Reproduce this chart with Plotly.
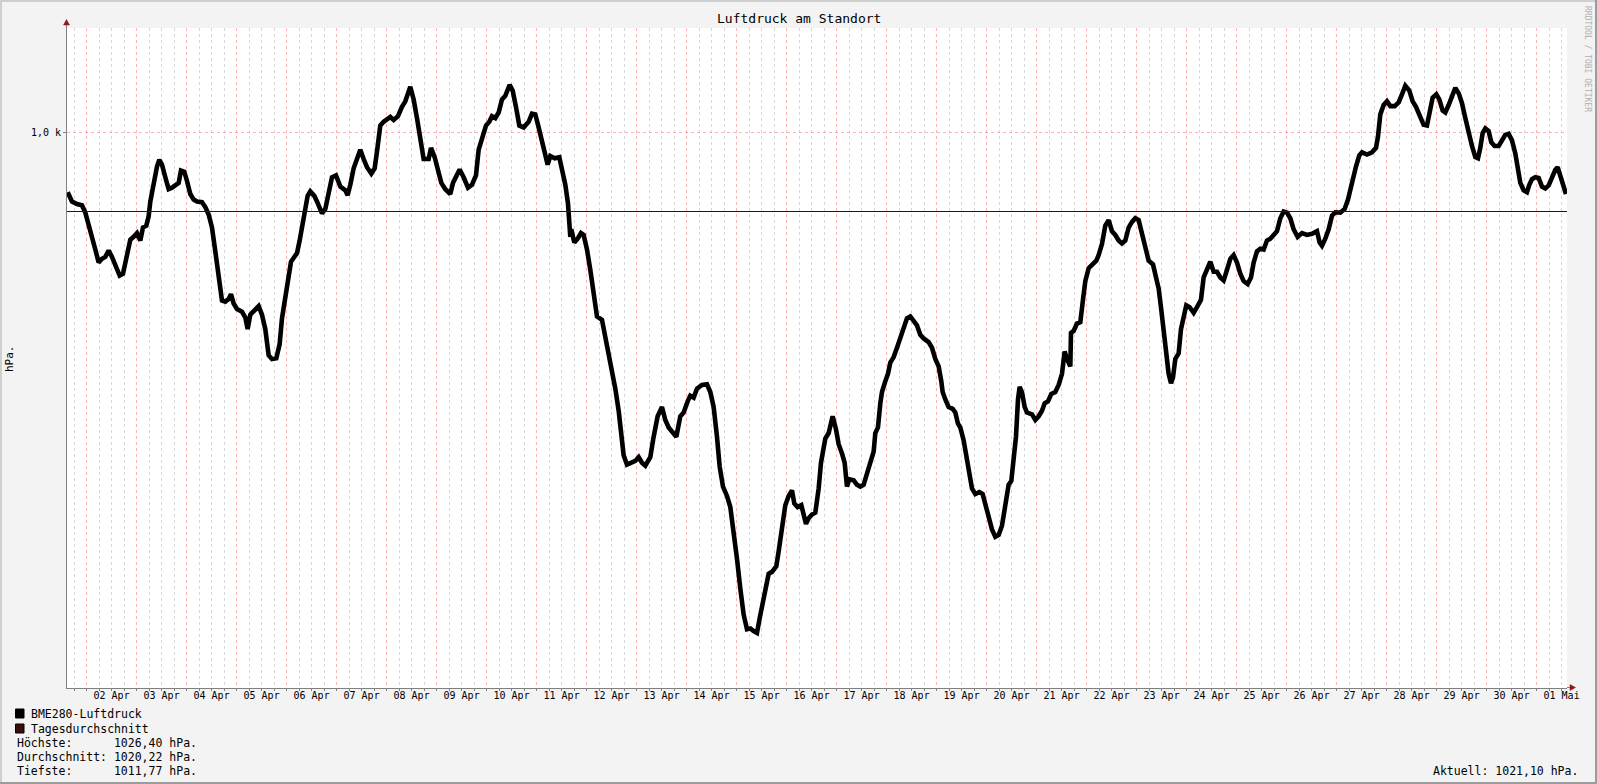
import pandas as pd
import plotly.graph_objects as go

# ---------------- data ----------------
# hours since 2024-04-01 00:00
stunden = [
    14.90, 16.98, 19.38, 21.78, 23.38, 24.98, 26.58, 28.18, 29.78, 31.38,
    32.98, 34.58, 36.18, 37.78, 39.86, 41.46, 43.38, 44.98, 46.58, 48.18,
    49.78, 51.06, 52.66, 53.78, 54.58, 56.18, 57.78, 58.90, 60.18, 61.78,
    63.38, 64.98, 66.58, 68.18, 69.30, 70.90, 72.18, 73.78, 75.38, 76.98,
    79.38, 80.98, 82.58, 84.18, 85.78, 87.38, 88.98, 90.58, 92.18, 93.30,
    94.58, 96.18, 98.58, 100.18, 101.30, 102.58, 104.98, 106.58, 108.18, 109.78,
    111.38, 112.98, 115.06, 116.66, 117.78, 119.38, 120.98, 122.10, 123.70, 124.98,
    126.26, 127.38, 128.66, 130.10, 131.38, 133.30,
    134.58, 136.98, 138.58, 140.18, 141.78, 143.70, 145.78, 148.18, 149.30, 150.58,
    152.18, 153.78, 155.38, 156.98, 158.58, 160.66, 162.26, 163.38, 164.98, 166.58,
    168.18, 169.78, 171.38, 173.46, 175.38, 176.98, 179.38, 180.98, 182.58, 184.18,
    185.78, 188.18, 189.30, 191.06, 192.66, 194.26, 196.18, 198.58, 199.86, 201.78,
    203.06, 204.98, 207.06, 208.98, 210.90, 212.18, 213.78, 215.70, 217.30, 218.58,
    220.18, 221.78, 223.38, 224.98, 227.06, 228.50, 230.10, 231.70, 233.78, 236.18,
    237.78, 239.38, 240.98, 242.58, 244.18, 245.30, 246.58, 248.66, 250.90, 252.18,
    253.78, 255.06, 256.18,
    256.66, 258.10, 259.70, 261.30, 262.58, 264.18, 265.78, 267.38, 268.98, 271.38,
    272.98, 274.58, 276.18, 277.78, 279.38, 280.50, 281.78, 283.38, 285.78, 287.38,
    288.98, 290.58, 292.18, 294.58, 296.18, 298.10, 300.18, 301.78, 303.38, 304.98,
    307.06, 308.98, 310.58, 312.50, 313.78, 315.38, 316.98, 319.38, 321.78, 323.38,
    324.98, 326.58, 327.86, 329.46, 331.38, 332.98, 334.58, 336.18, 337.78, 339.38,
    340.98, 342.58, 344.18, 345.78, 347.06, 348.66, 349.78, 351.38, 352.98, 355.06,
    356.18, 357.78, 359.38, 360.98, 362.58, 363.70, 365.30, 367.06, 368.18, 369.30,
    370.58, 372.18, 373.78, 375.38, 376.50, 377.78, 378.58,
    380.18, 382.10, 383.70, 384.98, 386.58, 387.86, 388.98, 390.10, 392.18, 393.78,
    395.38, 396.98, 398.58, 400.18, 401.78, 402.58, 403.86, 404.98, 405.78, 407.38,
    408.66, 409.78, 411.38, 412.98, 414.58, 416.18, 417.78, 419.38, 420.98, 422.58,
    424.18, 425.78, 428.18, 429.78, 431.38, 432.98, 434.26, 434.90, 436.18, 437.78,
    439.70, 440.98, 442.26, 443.38, 444.98, 446.58, 447.70, 448.98, 450.58, 452.50,
    454.10, 455.38, 456.98, 458.58, 460.18, 461.78, 463.38, 464.98, 466.58, 467.86,
    468.98, 470.10, 471.06, 471.86, 472.98, 474.26, 475.38, 477.78, 479.38, 480.98,
    482.58, 483.86, 485.46, 487.06, 488.98, 490.58, 492.18, 493.46, 494.58, 496.18,
    496.50, 497.78, 499.38,
    500.98, 502.26, 503.38, 504.98, 506.58, 508.66, 509.78, 511.38, 512.98, 514.58,
    516.18, 517.78, 519.38, 520.98, 522.58, 524.18, 525.78, 527.38, 528.98, 530.58,
    532.18, 533.78, 535.86, 537.46, 538.58, 539.70, 540.98, 542.26, 543.38, 544.50,
    545.46, 546.58, 548.18, 549.30, 550.58, 551.86, 553.46, 555.38, 556.98, 558.90,
    560.18, 561.78, 563.38, 564.98, 566.58, 568.18, 569.78, 571.38, 572.98, 574.58,
    576.18, 577.78, 579.38, 581.30, 582.90, 584.18, 585.78, 587.38, 588.98, 590.58,
    592.18, 593.78, 595.38, 596.98, 598.58, 600.18, 601.78, 603.38, 605.30, 607.38,
    609.78, 612.18, 614.58, 615.86, 616.98, 618.58, 620.18, 621.78, 623.38,
    625.78, 627.86, 629.46, 630.58, 631.70, 633.30, 634.90, 636.18, 638.58, 640.98,
    642.90, 643.86, 644.98, 646.58, 648.18, 649.78, 651.86, 653.78, 655.38, 656.98,
    658.90, 660.50, 662.10, 664.18, 665.78, 667.38, 668.66, 670.10, 671.86, 673.30,
    674.90, 676.18, 677.78, 679.38, 680.98, 682.58, 684.18, 685.78, 687.38, 688.98,
    690.58, 691.86, 692.98, 694.10, 695.38, 696.98, 698.26, 699.86, 701.78, 703.38,
    704.98, 706.58, 708.18, 709.78, 711.06, 712.18, 713.78, 715.38, 716.50, 717.78,
    719.38, 720.98, 722.58, 724.18, 725.78, 727.38, 728.98, 730.10, 731.38, 732.98,
    734.10,
]

# BME280 pressure in hPa
luftdruck = [
    1023.39, 1023.14, 1023.07, 1023.04, 1022.84, 1022.54, 1022.19, 1021.85, 1021.50, 1021.60,
    1021.65, 1021.82, 1021.65, 1021.40, 1021.15, 1021.20, 1021.70, 1022.11, 1022.19, 1022.29,
    1022.09, 1022.44, 1022.49, 1022.74, 1023.14, 1023.69, 1024.08, 1024.26, 1024.13, 1023.79,
    1023.47, 1023.51, 1023.59, 1023.64, 1023.97, 1023.94, 1023.69, 1023.34, 1023.19, 1023.14,
    1023.12, 1022.99, 1022.79, 1022.44, 1021.80, 1021.10, 1020.48, 1020.45, 1020.52, 1020.65,
    1020.40, 1020.25, 1020.18, 1020.02, 1019.71, 1020.10, 1020.25, 1020.33, 1020.10, 1019.71,
    1019.01, 1018.91, 1018.93, 1019.31, 1020.00, 1020.60, 1021.10, 1021.52, 1021.65, 1021.75,
    1022.09, 1022.49, 1022.94, 1023.29, 1023.41, 1023.29,
    1023.14, 1022.82, 1022.94, 1023.39, 1023.79, 1023.84, 1023.54, 1023.44, 1023.31, 1023.59,
    1024.03, 1024.28, 1024.53, 1024.28, 1024.06, 1023.89, 1024.03, 1024.48, 1025.18, 1025.28,
    1025.33, 1025.41, 1025.33, 1025.43, 1025.68, 1025.83, 1026.22, 1025.88, 1025.38, 1024.78,
    1024.28, 1024.28, 1024.58, 1024.33, 1024.03, 1023.64, 1023.47, 1023.34, 1023.64, 1023.89,
    1024.00, 1023.79, 1023.51, 1023.59, 1023.84, 1024.53, 1024.88, 1025.18, 1025.28, 1025.43,
    1025.38, 1025.53, 1025.88, 1025.98, 1026.27, 1026.12, 1025.68, 1025.18, 1025.13, 1025.28,
    1025.50, 1025.48, 1025.13, 1024.73, 1024.38, 1024.13, 1024.36, 1024.30, 1024.33, 1023.99,
    1023.59, 1023.09, 1022.19,
    1022.39, 1022.04, 1022.14, 1022.29, 1022.24, 1021.85, 1021.30, 1020.60, 1020.05, 1019.96,
    1019.51, 1019.11, 1018.71, 1018.11, 1017.52, 1016.92, 1016.32, 1016.07, 1016.12, 1016.17,
    1016.27, 1016.12, 1016.04, 1016.27, 1016.82, 1017.37, 1017.62, 1017.27, 1017.07, 1016.97,
    1016.82, 1017.37, 1017.47, 1017.77, 1017.92, 1017.87, 1018.11, 1018.21, 1018.23, 1018.02,
    1017.62, 1016.82, 1016.02, 1015.48, 1015.23, 1014.93, 1014.33, 1013.54, 1012.74, 1012.04,
    1011.65, 1011.67, 1011.60, 1011.55, 1011.94, 1012.39, 1012.79, 1013.14, 1013.19, 1013.34,
    1013.74, 1014.33, 1014.98, 1015.23, 1015.38, 1015.03, 1014.93, 1014.98, 1014.78, 1014.48,
    1014.63, 1014.73, 1014.78, 1015.43, 1016.12, 1016.62, 1016.77,
    1016.92, 1017.37, 1017.02, 1016.62, 1016.37, 1016.12, 1015.48, 1015.68, 1015.65, 1015.53,
    1015.48, 1015.53, 1015.83, 1016.12, 1016.42, 1016.92, 1017.07, 1017.72, 1018.02, 1018.31,
    1018.51, 1018.81, 1018.96, 1019.21, 1019.46, 1019.71, 1020.00, 1020.05, 1019.90, 1019.81,
    1019.56, 1019.46, 1019.36, 1019.21, 1018.91, 1018.71, 1018.31, 1018.02, 1017.82, 1017.62,
    1017.57, 1017.47, 1017.17, 1017.07, 1016.72, 1016.22, 1015.93, 1015.43, 1015.28, 1015.33,
    1015.28, 1015.03, 1014.68, 1014.33, 1014.13, 1014.18, 1014.43, 1014.93, 1015.53, 1015.63,
    1016.32, 1016.82, 1017.82, 1018.16, 1018.02, 1017.62, 1017.47, 1017.42, 1017.27, 1017.37,
    1017.52, 1017.72, 1017.77, 1017.97, 1018.02, 1018.21, 1018.51, 1019.11, 1018.91, 1018.71,
    1019.61, 1019.66, 1019.86,
    1019.90, 1020.50, 1021.00, 1021.35, 1021.45, 1021.55, 1021.70, 1022.00, 1022.49, 1022.64,
    1022.34, 1022.24, 1022.09, 1022.01, 1022.09, 1022.44, 1022.59, 1022.69, 1022.64, 1022.29,
    1021.90, 1021.55, 1021.45, 1021.10, 1020.80, 1020.30, 1019.71, 1019.11, 1018.51, 1018.26,
    1018.41, 1018.91, 1019.06, 1019.71, 1020.10, 1020.35, 1020.30, 1020.15, 1020.30, 1020.50,
    1021.10, 1021.30, 1021.52, 1021.25, 1021.25, 1021.10, 1021.02, 1021.30, 1021.60, 1021.70,
    1021.50, 1021.20, 1021.00, 1020.92, 1021.10, 1021.50, 1021.80, 1021.87, 1021.85, 1022.09,
    1022.14, 1022.24, 1022.34, 1022.69, 1022.87, 1022.84, 1022.69, 1022.39, 1022.19, 1022.29,
    1022.24, 1022.27, 1022.34, 1022.04, 1021.95, 1022.14, 1022.39, 1022.76, 1022.85,
    1022.84, 1022.94, 1023.19, 1023.49, 1023.79, 1024.08, 1024.38, 1024.46, 1024.40, 1024.46,
    1024.58, 1024.88, 1025.48, 1025.73, 1025.83, 1025.70, 1025.70, 1025.80, 1026.02, 1026.25,
    1026.12, 1025.83, 1025.68, 1025.38, 1025.20, 1025.18, 1025.48, 1025.93, 1026.02, 1025.88,
    1025.58, 1025.53, 1025.73, 1025.98, 1026.19, 1026.05, 1025.78, 1025.38, 1024.98, 1024.63,
    1024.33, 1024.30, 1024.58, 1024.98, 1025.10, 1025.03, 1024.73, 1024.63, 1024.63, 1024.78,
    1024.93, 1024.96, 1024.78, 1024.43, 1024.03, 1023.64, 1023.44, 1023.39, 1023.59, 1023.74,
    1023.79, 1023.77, 1023.54, 1023.49, 1023.57, 1023.79, 1023.99, 1024.06, 1023.84, 1023.49,
    1023.34,
]

tagesdurchschnitt = 1022.87

tick_labels = ["02 Apr", "03 Apr", "04 Apr", "05 Apr", "06 Apr", "07 Apr", "08 Apr",
               "09 Apr", "10 Apr", "11 Apr", "12 Apr", "13 Apr", "14 Apr", "15 Apr",
               "16 Apr", "17 Apr", "18 Apr", "19 Apr", "20 Apr", "21 Apr", "22 Apr",
               "23 Apr", "24 Apr", "25 Apr", "26 Apr", "27 Apr", "28 Apr", "29 Apr",
               "30 Apr", "01 Mai"]

y_tick_values = [1025]
y_tick_labels = ["1,0 k"]
y_range = [1010.07, 1027.80]

x_start_h = 14.59
x_end_h = 734.59

legend_names = ["BME280-Luftdruck", "Tagesdurchschnitt"]
legend_colors = ["#000000", "#3b0d0d"]
stat_lines = ["Höchste:      1026,40 hPa.",
              "Durchschnitt: 1020,22 hPa.",
              "Tiefste:      1011,77 hPa."]
aktuell_text = "Aktuell: 1021,10 hPa."

# ---------------- layout constants ----------------
W, H = 1597, 784
PL, PR, PT, PB = 67, 1567, 28, 688
FONT = "DejaVu Sans Mono"

def px(x):
    return (x - PL) / (PR - PL)

def py(y):
    return (PB - y) / (PB - PT)

base = pd.Timestamp("2024-04-01 00:00")
times = base + pd.to_timedelta(stunden, unit="h")
x0 = base + pd.to_timedelta(x_start_h, unit="h")
x1 = base + pd.to_timedelta(x_end_h, unit="h")
tick_pos = [base + pd.to_timedelta(24 * (k + 1) + 12, unit="h") for k in range(len(tick_labels))]

fig = go.Figure()
fig.add_trace(go.Scatter(x=times, y=luftdruck, mode="lines",
                         line=dict(color="#000000", width=4.6),
                         name=legend_names[0], xaxis="x", yaxis="y",
                         hoverinfo="skip"))
fig.add_trace(go.Scatter(x=[x0, x1], y=[tagesdurchschnitt, tagesdurchschnitt], mode="lines",
                         line=dict(color=legend_colors[1], width=1.2),
                         name=legend_names[1], xaxis="x2", yaxis="y",
                         hoverinfo="skip"))

grid_major = "rgba(245,110,110,0.50)"
grid_minor = "rgba(140,140,140,0.35)"

fig.update_layout(
    width=W, height=H, autosize=False,
    margin=dict(l=PL, r=W - PR, t=PT, b=H - PB, pad=0),
    paper_bgcolor="#f3f3f3", plot_bgcolor="#ffffff",
    showlegend=False,
    font=dict(family=FONT, color="#000000", size=10),
    xaxis=dict(
        type="date", range=[x0, x1],
        tick0=base, dtick=86400000,
        showgrid=True, gridcolor=grid_major, griddash="dot", gridwidth=1,
        minor=dict(dtick=6 * 3600 * 1000, tick0=base, showgrid=True,
                   gridcolor=grid_minor, griddash="dot", gridwidth=1,
                   ticks="outside", ticklen=2, tickcolor="#808080"),
        ticks="outside", ticklen=2, tickcolor="#808080",
        showticklabels=False,
        showline=True, linecolor="#808080", linewidth=1,
        zeroline=False, fixedrange=True,
    ),
    xaxis2=dict(
        type="date", range=[x0, x1], overlaying="x", anchor="y", side="bottom",
        tickmode="array", tickvals=tick_pos, ticktext=tick_labels,
        showgrid=False, ticks="", showline=False, zeroline=False,
        tickfont=dict(family=FONT, size=10, color="#000000"),
        fixedrange=True,
    ),
    yaxis=dict(
        range=y_range, tickmode="array", tickvals=y_tick_values, ticktext=y_tick_labels,
        showgrid=True, gridcolor=grid_major, griddash="dot", gridwidth=1,
        ticks="outside", ticklen=3, tickcolor="#808080",
        tickfont=dict(family=FONT, size=10, color="#000000"),
        showline=True, linecolor="#808080", linewidth=1,
        zeroline=False, fixedrange=True,
    ),
)

ann = []
ann.append(dict(text="Luftdruck am Standort", x=px(798.5), y=py(19), xref="paper", yref="paper",
                showarrow=False, xanchor="center", yanchor="middle",
                font=dict(family=FONT, size=13, color="#000000")))
ann.append(dict(text="hPa.", x=px(10), y=py(359), xref="paper", yref="paper",
                showarrow=False, xanchor="center", yanchor="middle", textangle=-90,
                font=dict(family=FONT, size=11, color="#000000")))
ann.append(dict(text="RRDTOOL / TOBI OETIKER", x=px(1588), y=py(59), xref="paper", yref="paper",
                showarrow=False, xanchor="center", yanchor="middle", textangle=90,
                font=dict(family=FONT, size=8, color="#b0b0b0")))
legend_y = [713.5, 728.5]
for name, yy in zip(legend_names, legend_y):
    ann.append(dict(text=name, x=px(29), y=py(yy), xref="paper", yref="paper",
                    showarrow=False, xanchor="left", yanchor="middle",
                    font=dict(family=FONT, size=11.5, color="#000000")))
stat_y = [742.5, 756.5, 770.5]
for line, yy in zip(stat_lines, stat_y):
    ann.append(dict(text=line.replace(" ", "&nbsp;"), x=px(15), y=py(yy), xref="paper", yref="paper",
                    showarrow=False, xanchor="left", yanchor="middle",
                    font=dict(family=FONT, size=11.5, color="#000000")))
ann.append(dict(text=aktuell_text, x=px(1580), y=py(770.5), xref="paper", yref="paper",
                showarrow=False, xanchor="right", yanchor="middle",
                font=dict(family=FONT, size=11.5, color="#000000")))
fig.update_layout(annotations=ann)

shapes = []
# legend swatches
for col, yy in zip(legend_colors, legend_y):
    shapes.append(dict(type="rect", xref="paper", yref="paper",
                       x0=px(15.5), x1=px(24), y0=py(yy + 4.5), y1=py(yy - 4.5),
                       fillcolor=col, line=dict(color="#000000", width=1)))
# axis extensions and arrows
shapes.append(dict(type="line", xref="paper", yref="paper", x0=px(66.5), x1=px(66.5),
                   y0=py(PT), y1=py(23), line=dict(color="#808080", width=1)))
shapes.append(dict(type="path", xref="paper", yref="paper",
                   path=f"M {px(63.5)},{py(25)} L {px(69.5)},{py(25)} L {px(66.5)},{py(19.5)} Z",
                   fillcolor="#8b1a1a", line=dict(color="#8b1a1a", width=0.5)))
shapes.append(dict(type="line", xref="paper", yref="paper", x0=px(PR), x1=px(1571),
                   y0=py(687.5), y1=py(687.5), line=dict(color="#808080", width=1)))
shapes.append(dict(type="path", xref="paper", yref="paper",
                   path=f"M {px(1570)},{py(684.5)} L {px(1570)},{py(690.5)} L {px(1575.5)},{py(687.5)} Z",
                   fillcolor="#8b1a1a", line=dict(color="#8b1a1a", width=0.5)))
# outer frame
shapes.append(dict(type="line", xref="paper", yref="paper", x0=px(0), x1=px(W), y0=py(1), y1=py(1),
                   line=dict(color="#cfcfcf", width=2)))
shapes.append(dict(type="line", xref="paper", yref="paper", x0=px(1), x1=px(1), y0=py(0), y1=py(H),
                   line=dict(color="#cfcfcf", width=2)))
shapes.append(dict(type="line", xref="paper", yref="paper", x0=px(0), x1=px(W), y0=py(H - 1), y1=py(H - 1),
                   line=dict(color="#9c9c9c", width=2)))
shapes.append(dict(type="line", xref="paper", yref="paper", x0=px(W - 1), x1=px(W - 1), y0=py(0), y1=py(H),
                   line=dict(color="#9c9c9c", width=2)))
fig.update_layout(shapes=shapes)

fig.write_html("out.html",
               config={"displayModeBar": False, "staticPlot": True},
               post_script="document.body.style.margin='0px';document.body.style.overflow='hidden';")
